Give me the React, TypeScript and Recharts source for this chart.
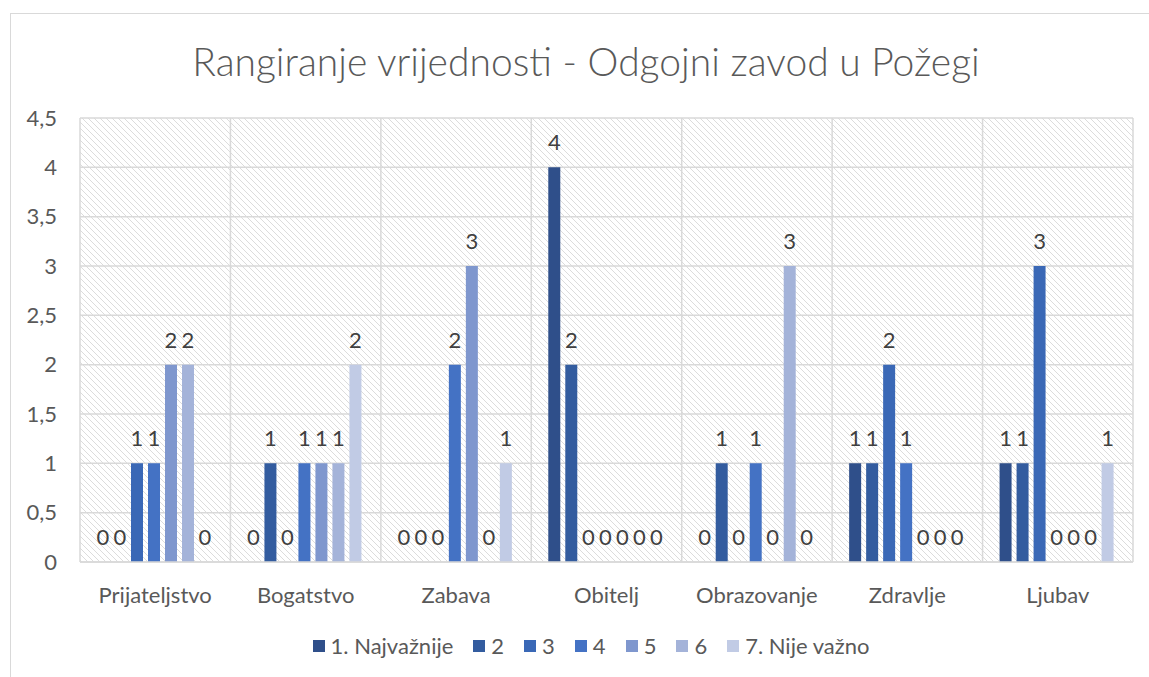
import { BarChart, Bar, XAxis, YAxis, CartesianGrid, LabelList } from "recharts";

const categories = ["Prijateljstvo", "Bogatstvo", "Zabava", "Obitelj", "Obrazovanje", "Zdravlje", "Ljubav"];

const rank1 = [0, 0, 0, 4, 0, 1, 1];
const rank2 = [0, 1, 0, 2, 1, 1, 1];
const rank3 = [1, 0, 0, 0, 0, 2, 3];
const rank4 = [1, 1, 2, 0, 1, 1, 0];
const rank5 = [2, 1, 3, 0, 0, 0, 0];
const rank6 = [2, 1, 0, 0, 3, 0, 0];
const rank7 = [0, 2, 1, 0, 0, 0, 1];

const seriesNames = ["1. Najvažnije", "2", "3", "4", "5", "6", "7. Nije važno"];
const seriesValues = [rank1, rank2, rank3, rank4, rank5, rank6, rank7];
const colors = ["#2F4F8A", "#335C9F", "#3A68B6", "#4472C4", "#7F97CE", "#A4B3D9", "#C1CBE5"];

const yTicks = [0, 0.5, 1, 1.5, 2, 2.5, 3, 3.5, 4, 4.5];

const data = categories.map((name, i) => {
  const row: Record<string, string | number> = { name };
  seriesValues.forEach((vals, s) => {
    row["s" + s] = vals[i];
  });
  return row;
});

const FONT = "Lato, 'Open Sans', sans-serif";
const GRID = "#d9d9d9";
const FS = 22;

// value label above each bar, also for zero bars
const renderValue = (props: any) => {
  const { x, y, width, value } = props;
  if (value == null) return null;
  return (
    <text x={Number(x) + Number(width) / 2} y={Number(y) - 17} textAnchor="middle" fill="#404040" fontSize={FS} fontFamily={FONT}>
      {String(value)}
    </text>
  );
};

export default function App() {
  return (
    <div style={{ position: "absolute", left: 0, top: 0, width: 1149, height: 677, overflow: "hidden", background: "#fff", fontFamily: FONT }}>
      <div style={{ position: "absolute", left: 10, top: 13, width: 1160, height: 700, border: `1.5px solid ${GRID}` }} />
      <div style={{ position: "absolute", left: 0, top: 35, width: 1172, textAlign: "center", fontSize: 39, fontWeight: 300, color: "#595959", lineHeight: "52px" }}>
        Rangiranje vrijednosti - Odgojni zavod u Požegi
      </div>
      <div style={{ position: "absolute", left: 0, top: 0 }}>
        <BarChart
          width={1149}
          height={677}
          data={data}
          margin={{ top: 118, right: 16, left: 0, bottom: 75 }}
          barCategoryGap={17}
          barGap={5}
        >
          <defs>
            <pattern id="hatch" patternUnits="userSpaceOnUse" width="6" height="6">
              <path d="M0,0 L6,6 M-1,5 L1,7 M5,-1 L7,1" stroke="#dcdcdc" strokeWidth="1" />
            </pattern>
          </defs>
          <CartesianGrid
            stroke={GRID}
            strokeWidth={1.5}
            fill="url(#hatch)"
            fillOpacity={1}
            verticalCoordinatesGenerator={({ offset }: any) =>
              categories.map((_, i) => offset.left + (offset.width * i) / categories.length).concat(offset.left + offset.width)
            }
          />
          <XAxis
            dataKey="name"
            axisLine={{ stroke: GRID, strokeWidth: 1.5 }}
            tickLine={false}
            tickSize={0}
            tickMargin={25}
            height={40}
            interval={0}
            tick={{ fill: "#595959", fontSize: FS, fontFamily: FONT }}
          />
          <YAxis
            domain={[0, 4.5]}
            ticks={yTicks}
            width={80}
            axisLine={false}
            tickLine={false}
            tickSize={0}
            tickMargin={23}
            tickFormatter={(v: number) => String(v).replace(".", ",")}
            tick={{ fill: "#595959", fontSize: FS, fontFamily: FONT }}
          />
          {seriesNames.map((n, s) => (
            <Bar
              key={n}
              dataKey={"s" + s}
              name={n}
              fill={colors[s]}
              minPointSize={(v: number) => (v === 0 ? 0.001 : 0)}
              isAnimationActive={false}
            >
              <LabelList dataKey={"s" + s} content={renderValue} />
            </Bar>
          ))}
        </BarChart>
      </div>
      <div style={{ position: "absolute", left: 0, top: 631, width: 1182, display: "flex", justifyContent: "center", fontSize: FS, color: "#595959", lineHeight: "30px" }}>
        {seriesNames.map((n, s) => (
          <div key={n} style={{ display: "flex", alignItems: "center", marginRight: s < seriesNames.length - 1 ? 20 : 0 }}>
            <span style={{ display: "inline-block", width: 12, height: 12, background: colors[s], marginRight: 6 }} />
            <span>{n}</span>
          </div>
        ))}
      </div>
    </div>
  );
}
